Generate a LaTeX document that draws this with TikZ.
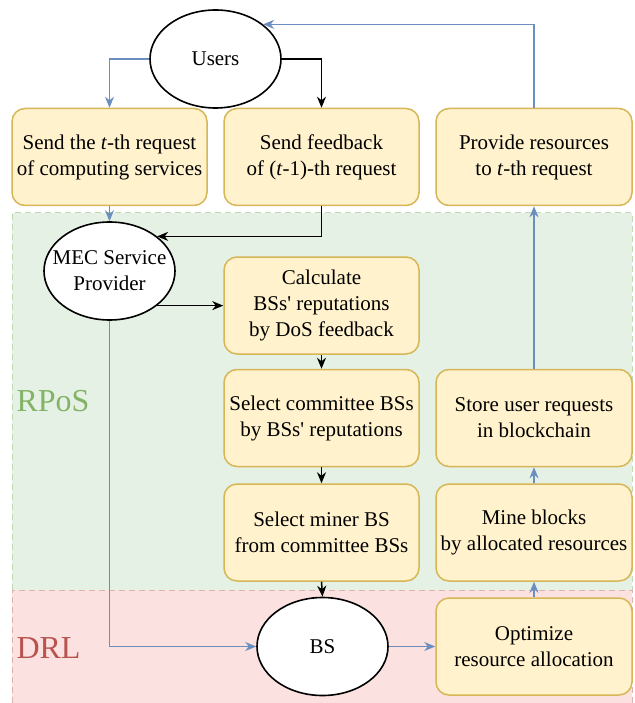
\documentclass[tikz,border=0pt]{standalone}
\usepackage{fontspec}
\setmainfont{Liberation Serif}
\usetikzlibrary{shapes.geometric,arrows.meta,positioning}
\definecolor{boxfill}{HTML}{FFF2CC}
\definecolor{boxdraw}{HTML}{D6B656}
\definecolor{bluel}{HTML}{6C8EBF}
\definecolor{greenf}{HTML}{D5E8D4}
\definecolor{greend}{HTML}{82B366}
\definecolor{redf}{HTML}{F8CECC}
\definecolor{redd}{HTML}{B85450}
\tikzset{
  stepbox/.style={draw=boxdraw, fill=boxfill, line width=1.5pt, rounded corners=13pt,
    minimum width=195pt, minimum height=97pt, align=center, inner sep=2pt,
    font=\fontsize{21}{26}\selectfont},
  ell/.style={draw=black, fill=white, ellipse, line width=1.6pt, minimum width=131pt,
    minimum height=98pt, inner sep=0pt},
  elltext/.style={align=center, font=\fontsize{21}{26}\selectfont},
  arr/.style={line width=1.5pt, -{Stealth[length=11pt,width=9pt,inset=3.5pt]}},
  barr/.style={arr, draw=bluel},
  karr/.style={arr, draw=black},
  region/.style={dashed, dash pattern=on 6pt off 4pt, line width=1pt},
}
\begin{document}
\begin{tikzpicture}[x=1pt,y=-1pt]
\useasboundingbox (0,0) rectangle (634,703);
% regions
\fill[greenf!60!white] (12,213) rectangle (632,590);
\draw[region, draw=greend!50!white] (12,590) -- (12,213) -- (632,213) -- (632,590);
\fill[redf!60!white] (12,590) rectangle (632,703);
\draw[region, draw=redd!45!white] (12,703) -- (12,590) -- (632,590) -- (632,703);
\node[anchor=base west, text=greend, font=\fontsize{32}{36}\selectfont] (rpos) at (13,411) {RPoS};
\node[anchor=base west, text=redd, font=\fontsize{32}{36}\selectfont] (drl) at (13,658) {DRL};
% nodes
\node[ell, label={[elltext]center:Users}] (users) at (215.5,59) {};
\node[stepbox] (b1) at (109.5,157) {Send the \textit{t}-th request\\of computing services};
\node[stepbox] (b2) at (321.5,157) {Send feedback\\of (\textit{t}-1)-th request};
\node[stepbox, minimum width=196pt] (b3) at (534,157) {Provide resources\\to \textit{t}-th request};
\node[ell, label={[elltext]center:MEC Service\\Provider}] (mec) at (109.5,271) {};
\node[stepbox] (calc) at (321.5,305.5) {Calculate\\BSs\textquotesingle{} reputations\\by DoS feedback};
\node[stepbox] (comm) at (321.5,418) {Select committee BSs\\by BSs\textquotesingle{} reputations};
\node[stepbox] (miner) at (321.5,532.5) {Select miner BS\\from committee BSs};
\node[stepbox, minimum width=196pt] (store) at (534,418) {Store user requests\\in blockchain};
\node[stepbox, minimum width=196pt] (mine) at (534,532.5) {Mine blocks\\by allocated resources};
\node[stepbox, minimum width=196pt] (opt) at (534,646.5) {Optimize\\resource allocation};
\node[ell, label={[elltext]center:BS}] (bs) at (322.5,646.5) {};
% connectors
\draw[barr] (users.west) -| (b1.north);
\draw[karr] (users.east) -| (b2.north);
\draw[barr] (b3.north) |- (users.36);
\draw[barr] (b1.south) -- (mec.north);
\draw[karr] (b2.south) |- (mec.36);
\draw[karr] (mec.-36) -- (calc.west |- mec.-36);
\draw[karr] (calc.south) -- (comm.north);
\draw[karr] (comm.south) -- (miner.north);
\draw[karr] (miner.south) -- (bs.north);
\draw[barr] (mec.south) |- (bs.west);
\draw[barr] (bs.east) -- (opt.west);
\draw[barr] (opt.north) -- (mine.south);
\draw[barr] (mine.north) -- (store.south);
\draw[barr] (store.north) -- (b3.south);
\end{tikzpicture}
\end{document}
